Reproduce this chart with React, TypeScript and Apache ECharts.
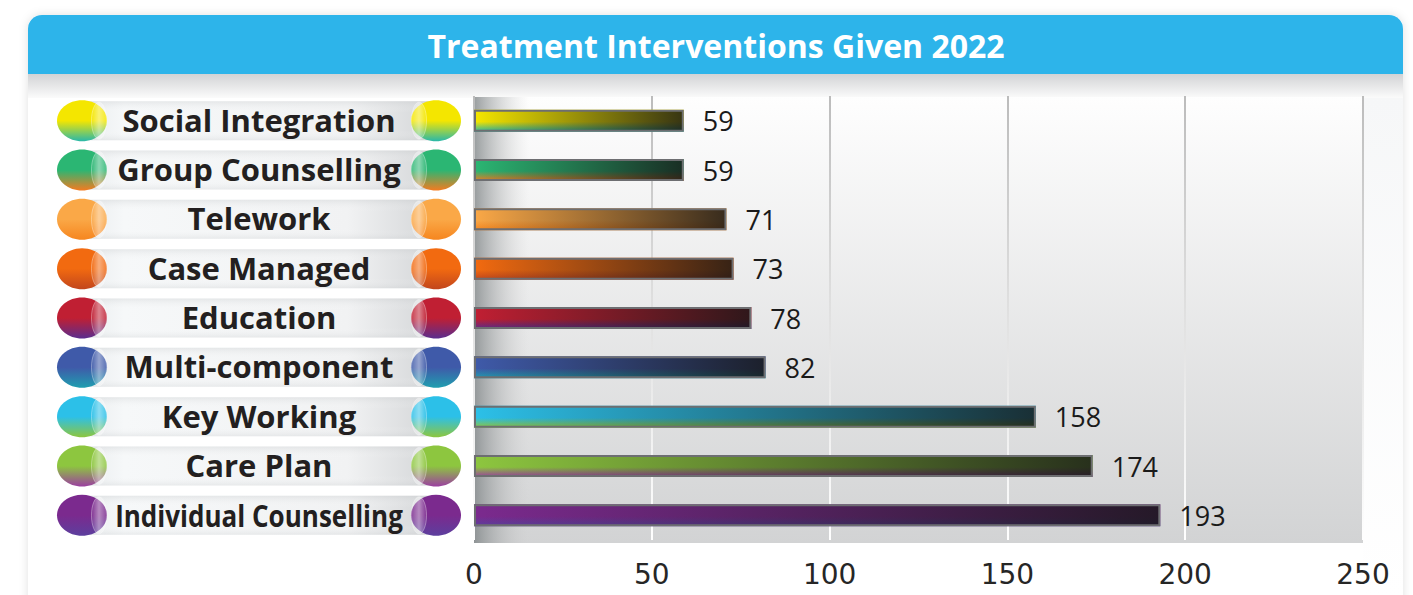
import React, { useEffect, useRef } from "react";
import * as echarts from "echarts";

const title = "Treatment Interventions Given 2022";
const categories = [
  "Social Integration",
  "Group Counselling",
  "Telework",
  "Case Managed",
  "Education",
  "Multi-component",
  "Key Working",
  "Care Plan",
  "Individual Counselling",
];
const values = [59, 59, 71, 73, 78, 82, 158, 174, 193];
const topColors = ["#f4e600", "#2bb673", "#faa847", "#f26a10", "#c01f33", "#3f5aa9", "#2cc0e8", "#8dc63f", "#7b2a8e"];
const bottomColors = ["#2ab8a8", "#f47b20", "#f6861f", "#c2461d", "#5b2d8e", "#1f9fb0", "#8dc63f", "#9b3fa0", "#5c3f9e"];
const xMin = 0;
const xMax = 250;
const xInterval = 50;

const LABEL_FONT = 'bold 31px "Open Sans"';

function measure(text: string, font: string): number {
  const c = document.createElement("canvas").getContext("2d");
  if (!c) return 0;
  c.font = font;
  return c.measureText(text).width;
}

export default function App() {
  const ref = useRef<HTMLDivElement>(null);

  useEffect(() => {
    document.body.style.margin = "0";
    if (!ref.current) return;
    const chart = echarts.init(ref.current, undefined, { renderer: "svg" });
    const LG = echarts.graphic.LinearGradient;

    const gridLineColor = new LG(0, 97, 0, 543, [
      { offset: 0, color: "#bcbcbc" },
      { offset: 0.45, color: "#dedede" },
      { offset: 1, color: "#ffffff" },
    ], true);

    const option: any = {
      animation: false,
      backgroundColor: "#ffffff",
      graphic: [
        {
          type: "rect", z: -10, silent: true,
          shape: { x: 28, y: 15, width: 1375, height: 620, r: [14, 14, 0, 0] },
          style: { fill: "#ffffff", shadowBlur: 10, shadowColor: "rgba(0,0,0,0.12)" },
        },
        {
          type: "rect", z: -9, silent: true,
          shape: { x: 1363, y: 97, width: 40, height: 498 },
          style: { fill: new LG(0, 0, 0, 1, [{ offset: 0, color: "#f6f7f8" }, { offset: 1, color: "#ffffff" }]) },
        },
        {
          type: "rect", z: -9, silent: true,
          shape: { x: 28, y: 15, width: 1375, height: 59, r: [14, 14, 0, 0] },
          style: { fill: "#2db4ea" },
        },
        {
          type: "rect", z: -9, silent: true,
          shape: { x: 28, y: 74, width: 1375, height: 24 },
          style: { fill: new LG(0, 0, 0, 1, [{ offset: 0, color: "#d2d3d5" }, { offset: 1, color: "#fbfbfb" }]) },
        },
        {
          type: "rect", z: -8, silent: true,
          shape: { x: 474, y: 97, width: 889, height: 446 },
          style: { fill: new LG(0, 0, 0, 1, [{ offset: 0, color: "#fefefe" }, { offset: 1, color: "#d2d3d4" }]) },
        },
        {
          type: "rect", z: -7, silent: true,
          shape: { x: 474, y: 97, width: 55, height: 446 },
          style: {
            fill: new LG(0, 0, 1, 0, [
              { offset: 0, color: "rgba(120,126,128,0.75)" },
              { offset: 1, color: "rgba(200,200,200,0)" },
            ]),
          },
        },
        {
          type: "text", z: 10, silent: true,
          x: 716, y: 45,
          style: {
            text: title, fill: "#ffffff", font: 'bold 32px "Open Sans"',
            align: "center", verticalAlign: "middle", textAlign: "center", textVerticalAlign: "middle",
          },
        },
      ],
      grid: [
        { left: 474, right: 50, top: 96, bottom: 55 },
        { left: 57, width: 404, top: 96, bottom: 55 },
      ],
      xAxis: [
        {
          type: "value", gridIndex: 0, min: xMin, max: xMax, interval: xInterval,
          axisLine: { show: false }, axisTick: { show: false },
          axisLabel: { fontFamily: "DejaVu Sans", fontSize: 28, color: "#262626", margin: 20 },
          splitLine: { show: true, lineStyle: { color: gridLineColor, width: 2 } },
        },
        { type: "value", gridIndex: 1, min: 0, max: 1, show: false },
      ],
      yAxis: [
        {
          type: "category", gridIndex: 0, data: categories, inverse: true,
          axisLine: { show: false }, axisTick: { show: false }, axisLabel: { show: false },
          splitLine: { show: false },
        },
        { type: "category", gridIndex: 1, data: categories, inverse: true, show: false },
      ],
      series: [
        {
          type: "bar", xAxisIndex: 0, yAxisIndex: 0, barWidth: 22, z: 2,
          data: values.map((v, i) => ({
            value: v,
            itemStyle: {
              color: new LG(0, 0, 0, 1, [
                { offset: 0, color: topColors[i] },
                { offset: 0.55, color: topColors[i] },
                { offset: 1, color: bottomColors[i] },
              ]),
            },
          })),
        },
        {
          type: "bar", xAxisIndex: 0, yAxisIndex: 0, barWidth: 22, barGap: "-100%", z: 3,
          data: values,
          itemStyle: {
            color: new LG(0, 0, 1, 0, [
              { offset: 0, color: "rgba(22,22,22,0)" },
              { offset: 1, color: "rgba(22,22,22,0.85)" },
            ]),
            borderColor: "#6d6e71",
            borderWidth: 2,
          },
          label: {
            show: true, position: "right", distance: 19,
            fontFamily: "Open Sans", fontSize: 27, color: "#1a1a1a",
          },
        },
        {
          type: "custom", xAxisIndex: 1, yAxisIndex: 1, z: 5,
          data: categories.map((_, i) => [0, i]),
          renderItem: (params: any, api: any) => {
            const i = api.value(1);
            const p0 = api.coord([0, i]);
            const p1 = api.coord([1, i]);
            const x0 = p0[0];
            const x1 = p1[0];
            const cy = p0[1];
            const rx = 25;
            const ry = 20.5;
            const capFill = new LG(0, 0, 0, 1, [
              { offset: 0, color: topColors[i] },
              { offset: 0.5, color: topColors[i] },
              { offset: 1, color: bottomColors[i] },
            ]);
            const faceL = new LG(0, 0, 1, 0, [
              { offset: 0, color: "rgba(255,255,255,0.05)" },
              { offset: 0.5, color: "rgba(255,255,255,0.45)" },
              { offset: 1, color: "rgba(255,255,255,0.15)" },
            ]);
            const faceR = new LG(0, 0, 1, 0, [
              { offset: 0, color: "rgba(255,255,255,0.15)" },
              { offset: 0.5, color: "rgba(255,255,255,0.45)" },
              { offset: 1, color: "rgba(255,255,255,0.05)" },
            ]);
            const text = categories[i];
            const w = measure(text, LABEL_FONT);
            const maxW = 288;
            const sx = w > maxW ? maxW / w : 1;
            return {
              type: "group",
              children: [
                {
                  type: "rect",
                  shape: { x: x0 + rx, y: cy - 19.5, width: x1 - x0 - 2 * rx, height: 39 },
                  style: {
                    fill: new LG(0, 0, 1, 0, [
                      { offset: 0, color: "#e9ecee" },
                      { offset: 0.12, color: "#f6f8f9" },
                      { offset: 0.75, color: "#f1f2f3" },
                      { offset: 1, color: "#d3d5d7" },
                    ]),
                  },
                },
                {
                  type: "rect",
                  shape: { x: x0 + rx, y: cy - 19.5, width: x1 - x0 - 2 * rx, height: 39 },
                  style: {
                    fill: new LG(0, 0, 0, 1, [
                      { offset: 0, color: "rgba(200,203,205,0.35)" },
                      { offset: 0.3, color: "rgba(255,255,255,0)" },
                      { offset: 0.75, color: "rgba(255,255,255,0)" },
                      { offset: 1, color: "rgba(200,203,205,0.3)" },
                    ]),
                  },
                },
                { type: "ellipse", shape: { cx: x0 + rx, cy, rx, ry }, style: { fill: capFill } },
                {
                  type: "ellipse",
                  shape: { cx: x0 + 2 * rx - 8, cy, rx: 7.5, ry: ry - 2 },
                  style: { fill: faceL, stroke: "rgba(255,255,255,0.35)", lineWidth: 1 },
                },
                { type: "ellipse", shape: { cx: x1 - rx, cy, rx, ry }, style: { fill: capFill } },
                {
                  type: "ellipse",
                  shape: { cx: x1 - 2 * rx + 8, cy, rx: 7.5, ry: ry - 2 },
                  style: { fill: faceR, stroke: "rgba(255,255,255,0.35)", lineWidth: 1 },
                },
                {
                  type: "text",
                  x: (x0 + x1) / 2,
                  y: cy - 1,
                  scaleX: sx,
                  style: {
                    x: 0, y: 0, text, font: LABEL_FONT, fill: "#231f20",
                    align: "center", verticalAlign: "middle",
                  },
                },
              ],
            };
          },
        },
      ],
    };

    chart.setOption(option);
    return () => chart.dispose();
  }, []);

  return <div ref={ref} style={{ width: 1413, height: 595 }} />;
}
